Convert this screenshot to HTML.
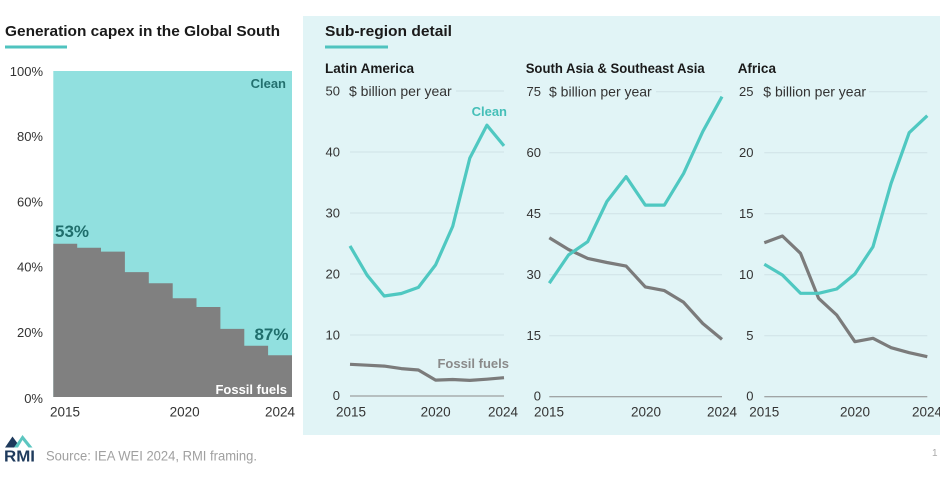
<!DOCTYPE html>
<html>
<head>
<meta charset="utf-8">
<style>
  html,body{margin:0;padding:0;background:#ffffff;}
  svg{display:block;}
  text{font-family:"Liberation Sans",sans-serif;}
</style>
</head>
<body>
<svg width="940" height="480" viewBox="0 0 940 480" xmlns="http://www.w3.org/2000/svg">
  <!-- Right panel background -->
  <rect x="303" y="16" width="637" height="419" fill="#e1f4f6"/>

  <!-- ============ LEFT CHART ============ -->
  <text x="5" y="36" font-size="15" font-weight="bold" fill="#1a1a1a" textLength="275" lengthAdjust="spacingAndGlyphs">Generation capex in the Global South</text>
  <rect x="5" y="45.5" width="62" height="3" fill="#4fc3bf"/>

  <rect x="53.3" y="71" width="238.7" height="326" fill="#91e0df"/>
  <path d="M53.3,397 V243.8 H77.2 V247.7 H101 V251.6 H124.9 V272.1 H148.8 V283.2 H172.7 V298.2 H196.5 V307 H220.4 V328.9 H244.3 V345.8 H268.1 V355.3 H292 V397 Z" fill="#808080"/>

  <g font-size="13" fill="#333" text-anchor="end">
    <text x="43" y="76">100%</text>
    <text x="43" y="141">80%</text>
    <text x="43" y="206.5">60%</text>
    <text x="43" y="271.5">40%</text>
    <text x="43" y="337">20%</text>
    <text x="43" y="403">0%</text>
  </g>
  <g font-size="13.5" fill="#333" text-anchor="middle">
    <text x="65" y="416.5">2015</text>
    <text x="184.6" y="416.5">2020</text>
    <text x="280" y="416.5">2024</text>
  </g>
  <text x="286" y="88" font-size="13" font-weight="bold" fill="#23706f" text-anchor="end">Clean</text>
  <text x="55" y="237" font-size="17" font-weight="bold" fill="#1f6e6c">53%</text>
  <text x="288.5" y="340" font-size="17" font-weight="bold" fill="#1f6e6c" text-anchor="end">87%</text>
  <text x="287" y="394" font-size="13" font-weight="bold" fill="#ffffff" text-anchor="end">Fossil fuels</text>

  <!-- ============ RIGHT PANEL ============ -->
  <text x="325" y="36" font-size="15" font-weight="bold" fill="#1a1a1a" textLength="127" lengthAdjust="spacingAndGlyphs">Sub-region detail</text>
  <rect x="325" y="45.5" width="63" height="3" fill="#4fc3bf"/>

  <!-- Latin America -->
  <text x="325" y="73" font-size="13.5" font-weight="bold" fill="#1a1a1a" textLength="89" lengthAdjust="spacingAndGlyphs">Latin America</text>
  <g stroke="#cfe2e5" stroke-width="1">
    <line x1="456" y1="91" x2="504" y2="91"/>
    <line x1="350" y1="152" x2="504" y2="152"/>
    <line x1="350" y1="213" x2="504" y2="213"/>
    <line x1="350" y1="274" x2="504" y2="274"/>
    <line x1="350" y1="335" x2="504" y2="335"/>
  </g>
  <line x1="350" y1="396" x2="504" y2="396" stroke="#8a8a8a" stroke-width="1"/>
  <g font-size="13" fill="#333" text-anchor="end">
    <text x="340" y="95.5">50</text>
    <text x="340" y="156.5">40</text>
    <text x="340" y="217.5">30</text>
    <text x="340" y="278.5">20</text>
    <text x="340" y="339.5">10</text>
    <text x="340" y="400">0</text>
  </g>
  <text x="349" y="96" font-size="14" fill="#333">$ billion per year</text>
  <g font-size="13.5" fill="#333" text-anchor="middle">
    <text x="351" y="416.5">2015</text>
    <text x="435.6" y="416.5">2020</text>
    <text x="503" y="416.5">2024</text>
  </g>
  <polyline fill="none" stroke="#7b7b7b" stroke-width="3.2" stroke-linejoin="round" points="350,364.3 367.1,365.2 384.2,366.1 401.3,368.6 418.4,370 435.6,380.1 452.7,379.5 469.8,380.4 486.9,379.2 504,377.7"/>
  <polyline fill="none" stroke="#4fc8c1" stroke-width="3.2" stroke-linejoin="round" points="350,245.9 367.1,275.2 384.2,296 401.3,293.5 418.4,287.4 435.6,264.9 452.7,226.4 469.8,158.1 486.9,125.2 504,145.9"/>
  <text x="507" y="116" font-size="13" font-weight="bold" fill="#45bfb8" text-anchor="end">Clean</text>
  <text x="509" y="368" font-size="13" font-weight="bold" fill="#8a8a8a" text-anchor="end">Fossil fuels</text>

  <!-- South Asia & Southeast Asia -->
  <text x="525.7" y="73" font-size="13.5" font-weight="bold" fill="#1a1a1a" textLength="179" lengthAdjust="spacingAndGlyphs">South Asia &amp; Southeast Asia</text>
  <g stroke="#cfe2e5" stroke-width="1">
    <line x1="656" y1="91.7" x2="722" y2="91.7"/>
    <line x1="549.3" y1="152.7" x2="722" y2="152.7"/>
    <line x1="549.3" y1="213.7" x2="722" y2="213.7"/>
    <line x1="549.3" y1="274.7" x2="722" y2="274.7"/>
    <line x1="549.3" y1="335.7" x2="722" y2="335.7"/>
  </g>
  <line x1="549.3" y1="396.7" x2="722" y2="396.7" stroke="#8a8a8a" stroke-width="1"/>
  <g font-size="13" fill="#333" text-anchor="end">
    <text x="541" y="96">75</text>
    <text x="541" y="157">60</text>
    <text x="541" y="218">45</text>
    <text x="541" y="279">30</text>
    <text x="541" y="340">15</text>
    <text x="541" y="400.5">0</text>
  </g>
  <text x="549" y="96.5" font-size="14" fill="#333">$ billion per year</text>
  <g font-size="13.5" fill="#333" text-anchor="middle">
    <text x="549" y="416.5">2015</text>
    <text x="646" y="416.5">2020</text>
    <text x="722" y="416.5">2024</text>
  </g>
  <polyline fill="none" stroke="#7b7b7b" stroke-width="3.2" stroke-linejoin="round" points="549.3,237.7 568.5,249.5 587.7,258.4 606.9,262.5 626.1,266.1 645.3,286.9 664.4,290.6 683.6,302.3 702.8,323.5 722,339.4"/>
  <polyline fill="none" stroke="#4fc8c1" stroke-width="3.2" stroke-linejoin="round" points="549.3,283.2 568.5,255 587.7,241.7 606.9,201.5 626.1,176.7 645.3,205.1 664.4,205.1 683.6,173.4 702.8,131.5 722,96.6"/>

  <!-- Africa -->
  <text x="737.7" y="73" font-size="13.5" font-weight="bold" fill="#1a1a1a">Africa</text>
  <g stroke="#cfe2e5" stroke-width="1">
    <line x1="869" y1="91.7" x2="927.3" y2="91.7"/>
    <line x1="764.3" y1="152.7" x2="927.3" y2="152.7"/>
    <line x1="764.3" y1="213.7" x2="927.3" y2="213.7"/>
    <line x1="764.3" y1="274.7" x2="927.3" y2="274.7"/>
    <line x1="764.3" y1="335.7" x2="927.3" y2="335.7"/>
  </g>
  <line x1="764.3" y1="396.7" x2="927.3" y2="396.7" stroke="#8a8a8a" stroke-width="1"/>
  <g font-size="13" fill="#333" text-anchor="end">
    <text x="753.5" y="96">25</text>
    <text x="753.5" y="157">20</text>
    <text x="753.5" y="218">15</text>
    <text x="753.5" y="279">10</text>
    <text x="753.5" y="340">5</text>
    <text x="753.5" y="400.5">0</text>
  </g>
  <text x="763.3" y="96.5" font-size="14" fill="#333">$ billion per year</text>
  <g font-size="13.5" fill="#333" text-anchor="middle">
    <text x="764.3" y="416.5">2015</text>
    <text x="855" y="416.5">2020</text>
    <text x="927" y="416.5">2024</text>
  </g>
  <polyline fill="none" stroke="#7b7b7b" stroke-width="3.2" stroke-linejoin="round" points="764.3,242.7 782.4,236 800.5,253.3 818.6,298.3 836.7,315 854.9,341.7 873,338.3 891.1,347.7 909.2,352.7 927.3,356.7"/>
  <polyline fill="none" stroke="#4fc8c1" stroke-width="3.2" stroke-linejoin="round" points="764.3,264.3 782.4,275 800.5,293.3 818.6,293.3 836.7,289 854.9,274 873,246.7 891.1,183.3 909.2,132.7 927.3,115.7"/>

  <!-- ============ FOOTER ============ -->
  <polygon points="5,447.5 12.5,436.5 18,444 16,447.5" fill="#1e3a5c"/>
  <polygon points="14,447.5 22.5,435 32.5,447.5 28.5,447.5 22.5,440 18,447.5" fill="#5cc6c0"/>
  <text x="4" y="461.5" font-size="16" font-weight="bold" fill="#1e3a5c" textLength="31" lengthAdjust="spacingAndGlyphs">RMI</text>
  <text x="46" y="460.5" font-size="14" fill="#a0a0a0" textLength="211" lengthAdjust="spacingAndGlyphs">Source: IEA WEI 2024, RMI framing.</text>
  <text x="932" y="456" font-size="10" fill="#aaaaaa">1</text>
</svg>
</body>
</html>
